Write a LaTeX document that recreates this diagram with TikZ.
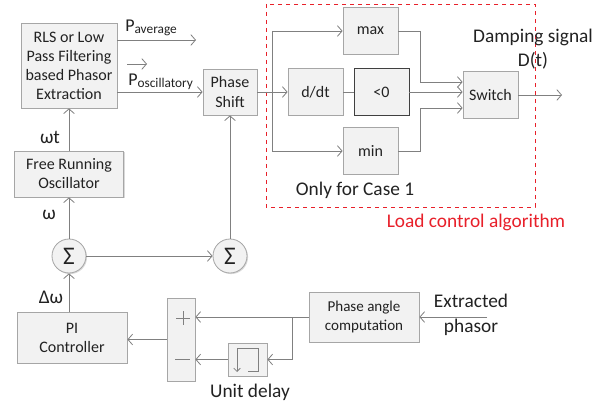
\documentclass[tikz,border=0pt]{standalone}
\usepackage{fontspec}
\setmainfont{Carlito}
\usetikzlibrary{arrows.meta,calc,shadows}
\definecolor{ln}{HTML}{808080}
\definecolor{bd}{HTML}{A6A6A6}
\definecolor{bf}{HTML}{F2F2F2}
\definecolor{tx}{HTML}{222222}
\definecolor{rd}{HTML}{E8202A}
\begin{document}
\begin{tikzpicture}[x=0.75pt,y=-0.75pt,
  box/.style={draw=bd,fill=bf,line width=0.6pt,inner sep=1pt,align=center,text=tx,
    font=\fontsize{12}{14.3}\selectfont,
    drop shadow={shadow xshift=0.8pt,shadow yshift=-0.8pt,fill=black!15,opacity=1}},
  sbox/.style={box,minimum width=41.25pt,minimum height=35pt},
  sig/.style={circle,draw=bd,fill=bf,line width=0.6pt,minimum size=25.5pt,inner sep=0pt,text=tx,
    font=\fontsize{19}{19}\selectfont,
    drop shadow={shadow xshift=0.8pt,shadow yshift=-0.8pt,fill=black!15,opacity=1}},
  arr/.style={draw=ln,line width=0.6pt,-{Straight Barb[length=3.5pt,width=8pt]}},
  wire/.style={draw=ln,line width=0.6pt},
  lbl/.style={text=tx,inner sep=0pt,font=\fontsize{14.5}{18.5}\selectfont,align=center}]
\useasboundingbox (0,0) rectangle (610,406);
\fill[white] (0,0) rectangle (610,406);

% dashed region
\draw[rd,dashed,line width=0.6pt] (266,4) rectangle (535,207);

% blocks
\node[box,minimum width=72pt,minimum height=63.75pt] (rls) at (69,65.5)
  {RLS or Low\\Pass Filtering\\based Phasor\\Extraction};
\node[box,minimum width=81.75pt,minimum height=34.5pt] (osc) at (69,174)
  {Free Running\\Oscillator};
\node[box,minimum width=40.5pt,minimum height=34.5pt] (ps) at (230,92) {Phase\\Shift};
\node[sbox] (max) at (370.5,31) {max};
\node[sbox] (ddt) at (315.5,92) {d/dt};
\node[sbox,draw=black!75] (lt) at (381.5,92) {<0};
\node[sbox] (min) at (370.5,151) {min};
\node[sbox] (sw) at (490.5,95) {Switch};
\node[box,minimum width=82.5pt,minimum height=38.25pt] (pi) at (72,337.5) {PI\\Controller};
\node[box,minimum width=21pt,minimum height=62.25pt] (sb) at (181,339.5) {};
\node[box,minimum width=29.25pt,minimum height=24.75pt] (dl) at (247.5,359.5) {};
\node[box,minimum width=82.5pt,minimum height=37.5pt,font=\fontsize{11.3}{14}\selectfont] (pac) at (364,317)
  {Phase angle\\computation};
\node[sig] (s1) at (69,256) {Σ};
\node[sig] (s2) at (230,256) {Σ};

% symbols inside the sum block and the delay block
\draw[ln,line width=0.5pt] (176,318) -- (190,318) (183,311) -- (183,325);
\draw[ln,line width=0.5pt] (175,359) -- (190,359);
\draw[ln,line width=0.6pt,-{Straight Barb[length=2.5pt,width=5pt]}] (237,348) -- (237,372);
\draw[ln,line width=0.6pt] (237,348) -- (258,348) -- (258,371) -- (248,371);

% coordinates
\coordinate (pa) at (196,40);
\coordinate (br) at (272,92);
\coordinate (jx) at (420,0);
\coordinate (in1) at ($(sw.west)+(0,-13)$);
\coordinate (in3) at ($(sw.west)+(0,13)$);
\coordinate (out) at (562,95);
\coordinate (bp) at (292,317);
\coordinate (ep) at (487,317);
\coordinate (va) at (127,64);
\coordinate (vb) at (147,64);

% connectors
\draw[arr] (rls.east |- pa) -- (pa);
\draw[arr] (rls.east |- ps) -- (ps.west);
\draw[arr] (va) -- (vb);
\draw[arr] (ps.east) -- (ddt.west);
\draw[wire] (br |- max) -- (br |- min);
\draw[arr] (br |- max) -- (max.west);
\draw[arr] (br |- min) -- (min.west);
\draw[wire] (ddt.east) -- (lt.west);
\draw[arr] (max.east) -| (jx |- in1) -- (in1);
\draw[arr] (lt.east) -- (lt.east -| sw.west);
\draw[arr] (min.east) -| (jx |- in3) -- (in3);
\draw[arr] (sw.east) -- (out);
\draw[arr] (osc.north) -- (rls.south);
\draw[arr] (s1.north) -- (osc.south);
\draw[arr] (s1.east) -- (s2.west);
\draw[arr] (s2.north) -- (ps.south);
\draw[arr] (pi.north -| s1) -- (s1.south);
\draw[arr] (sb.west) -- (pi.east |- sb.west);
\draw[arr] (pac.west) -- (sb.east |- pac.west);
\draw[arr] (bp) |- (dl.east);
\draw[arr] (dl.west) -- (sb.east |- dl.west);
\draw[arr] (ep) -- (pac.east);

% labels
\node[lbl,anchor=west] (lpa) at (125,28) {{\fontsize{13.5}{14}\selectfont P}\raisebox{-1.5pt}{\fontsize{10}{10}\selectfont average}};
\node[lbl,anchor=west] (lpo) at (128,82) {{\fontsize{13.5}{14}\selectfont P}\raisebox{-1.5pt}{\fontsize{10}{10}\selectfont oscillatory}};
\node[lbl] (lwt) at (50,137) {ωt};
\node[lbl] (lw) at (49,215) {ω};
\node[lbl] (ldw) at (51,297) {Δω};
\node[lbl] (lud) at (250,392) {Unit delay};
\node[lbl] (lep) at (471,315) {Extracted\\phasor};
\node[lbl] (lds) at (533,49) {Damping signal\\D(t)};
\node[lbl] (lc1) at (355,190) {Only for Case 1};
\node[lbl,text=rd] (llc) at (476,222) {Load control algorithm};
\end{tikzpicture}
\end{document}
